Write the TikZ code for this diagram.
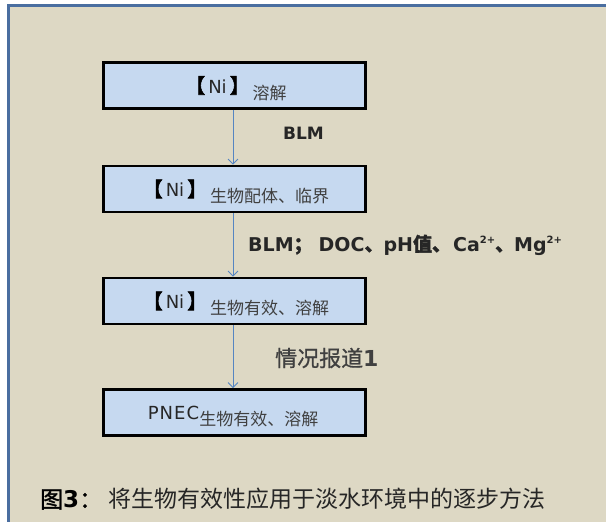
\documentclass[tikz,border=0pt]{standalone}
\usepackage{fontspec}
\setmainfont{DejaVu Sans}
\newfontfamily\cjk{Noto Sans CJK SC}
\newfontfamily\cjkb[FakeBold=1.5]{Noto Sans CJK SC}
\newfontfamily\cjkbm[FakeBold=0.8]{Noto Sans CJK SC}
\newfontfamily\cjkbb[FakeBold=3]{Noto Sans CJK SC}
\newfontfamily\wide[LetterSpace=6]{DejaVu Sans}
\usetikzlibrary{arrows.meta}
\definecolor{bg}{HTML}{DDD8C4}
\definecolor{boxfill}{HTML}{C6D9F0}
\definecolor{framec}{HTML}{4A6EA0}
\definecolor{arr}{HTML}{5585C2}
\definecolor{txt}{HTML}{262626}
\definecolor{subtxt}{HTML}{404040}
\newcommand{\subt}[1]{\raisebox{-6pt}{\fontsize{17}{18}\selectfont\color{subtxt}\cjk #1}}
\newcommand{\brk}[1]{{\fontsize{20}{20}\selectfont\color{black}\cjkbb #1}}
\newcommand{\Nitxt}{\brk{【}\hspace{3pt}Ni\hspace{3pt}\brk{】}\hspace{3pt}}
\newcommand{\supc}{\raisebox{7.5pt}{\fontsize{10}{10}\selectfont 2+}}
\begin{document}
\begin{tikzpicture}[x=1pt,y=-1pt,
  stagebox/.style={draw=black,line width=2.6pt,fill=boxfill,minimum width=262pt,minimum height=46pt,inner sep=0pt},
  flow/.style={draw=arr,line width=0.9pt,-{Straight Barb[length=5pt,width=10pt,line width=0.9pt]}},
  maintext/.style={anchor=base,font=\fontsize{18}{20}\selectfont,text=txt,inner sep=0pt},
  lab/.style={anchor=west,font=\fontsize{17}{20}\selectfont\bfseries,text=txt,inner sep=0pt}]
\useasboundingbox (0,0) rectangle (606,522);
\fill[white] (0,0) rectangle (606,522);
\fill[bg] (8,5) rectangle (606,522);
\draw[framec,line width=3pt] (8,522) -- (8,5) -- (606,5);

\node[stagebox] (b1) at (234.5,85.5) {};
\node[stagebox] (b2) at (234.5,189) {};
\node[stagebox] (b3) at (234.5,301) {};
\node[stagebox] (b4) at (234.5,412.5) {};

\node[maintext] (t1) at (236,93) {\Nitxt\subt{溶解}};
\node[maintext] (t2) at (236,196.5) {\Nitxt\subt{生物配体、临界}};
\node[maintext] (t3) at (236,308.5) {\Nitxt\subt{生物有效、溶解}};
\node[maintext] (t4) at (233,419) {{\wide PNEC}\subt{生物有效、溶解}};

\draw[flow] ([xshift=-1.5pt]b1.south) -- ([xshift=-1.5pt]b2.north);
\draw[flow] ([xshift=-1.5pt]b2.south) -- ([xshift=-1.5pt]b3.north);
\draw[flow] ([xshift=-1.5pt]b3.south) -- ([xshift=-1.5pt]b4.north);

\node[lab] (l1) at (283,133) {BLM};
\node[lab,font=\fontsize{19}{20}\selectfont\bfseries] (l2) at (248,245) {BLM{\cjkb ；}\hspace{6pt}DOC{\cjkb 、}pH{\cjkb 值、}\hspace{2pt}Ca\supc{\cjkb 、}Mg\supc};
\node[anchor=west,inner sep=0pt,font=\fontsize{22}{24}\selectfont,text=subtxt] (l3) at (275,358) {{\cjkbm 情况报道}\textbf{1}};
\node[anchor=west,inner sep=0pt,font=\fontsize{23}{24}\selectfont] (cap) at (40,499) {{\cjkb 图}\textbf{3}{\cjkb ：}\hspace{6pt}{\color{txt}\cjk 将生物有效性应用于淡水环境中的逐步方法}};
\end{tikzpicture}
\end{document}
